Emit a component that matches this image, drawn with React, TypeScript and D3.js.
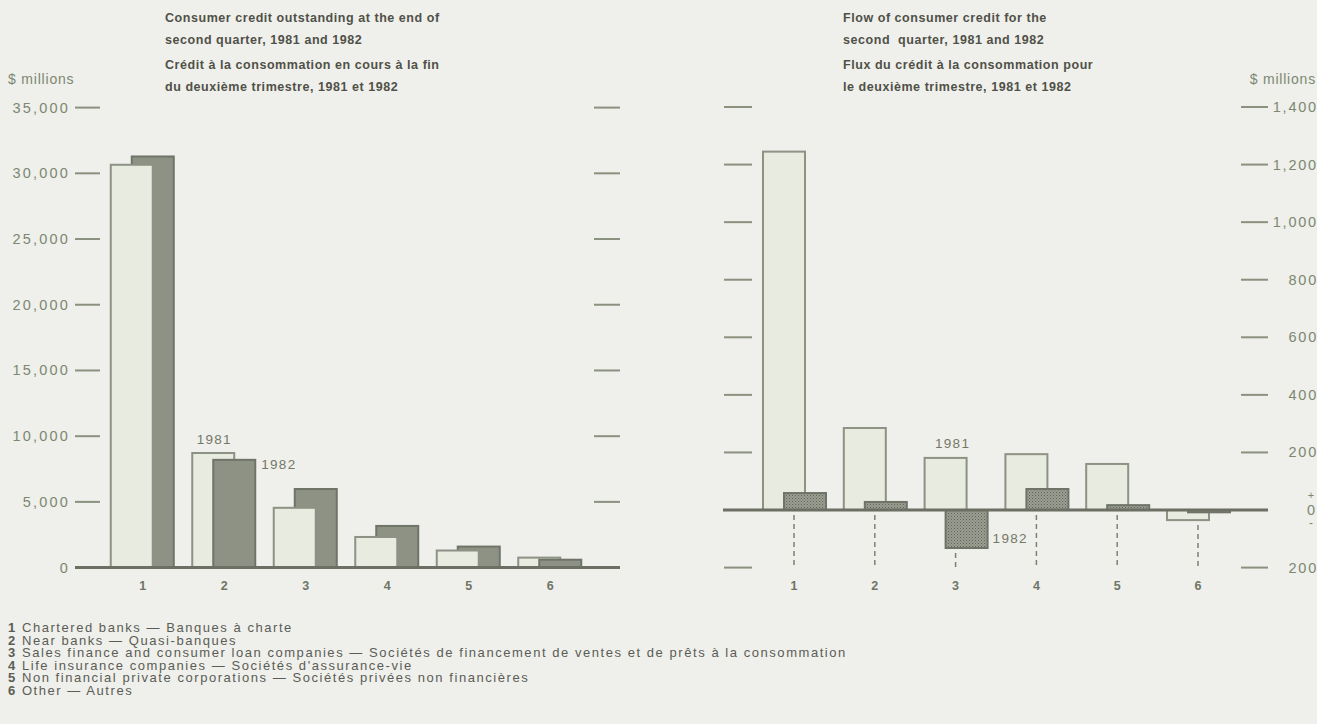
import React from "react";
import * as d3 from "d3";

const categories = ["1", "2", "3", "4", "5", "6"];
const stockTicks = [0, 5000, 10000, 15000, 20000, 25000, 30000, 35000];
const flowTicks = [-200, 0, 200, 400, 600, 800, 1000, 1200, 1400];
const stock1981 = [30650, 8720, 4550, 2330, 1300, 760];
const stock1982 = [31280, 8200, 5980, 3170, 1600, 600];
const flow1981 = [1245, 285, 181, 194, 160, -35];
const flow1982 = [59, 28, -132, 73, 17, -8];
const legendItems = [
  ["1", "Chartered banks — Banques à charte"],
  ["2", "Near banks — Quasi-banques"],
  ["3", "Sales finance and consumer loan companies — Sociétés de financement de ventes et de prêts à la consommation"],
  ["4", "Life insurance companies — Sociétés d'assurance-vie"],
  ["5", "Non financial private corporations — Sociétés privées non financières"],
  ["6", "Other — Autres"],
];
const leftTitle = [
  "Consumer credit outstanding at the end of",
  "second quarter, 1981 and 1982",
  "Crédit à la consommation en cours à la fin",
  "du deuxième trimestre, 1981 et 1982",
];
const rightTitle = [
  "Flow of consumer credit for the",
  "second  quarter, 1981 and 1982",
  "Flux du crédit à la consommation pour",
  "le deuxième trimestre, 1981 et 1982",
];

const FONT = "'Liberation Sans', Arial, Helvetica, sans-serif";
const BG = "#efefeb";
const LIGHT = "#e8ebe0";
const LIGHT_STROKE = "#8d9284";
const DARK = "#8d9284";
const DARK_STROKE = "#6f7468";
const AXIS = "#6c7064";
const TICK = "#8b917f";
const LABEL = "#7c8870";
const TITLE = "#4f5148";

const fmt = d3.format(",");

export default function App() {
  const W = 1317;
  const H = 724;

  const xL = d3.scaleBand<string>().domain(categories).range([101, 590]);
  const yL = d3.scaleLinear().domain([0, 35000]).range([567.6, 107.6]);
  const xR = d3.scaleBand<string>().domain(categories).range([753.6, 1238.4]);
  const yR = d3.scaleLinear().domain([-200, 1400]).range([567.6, 107]);

  const bw = 42;

  const leftBars = categories.map((c, i) => {
    const cx = (xL(c) as number) + xL.bandwidth() / 2;
    const a = { key: "a" + c, x: cx - 31, v: stock1981[i], fill: LIGHT, stroke: LIGHT_STROKE };
    const b = { key: "b" + c, x: cx - 10, v: stock1982[i], fill: DARK, stroke: DARK_STROKE };
    return Math.abs(a.v) >= Math.abs(b.v) ? [a, b] : [b, a];
  });

  const rightBars = categories.map((c, i) => {
    const cx = (xR(c) as number) + xR.bandwidth() / 2;
    const a = { key: "ra" + c, x: cx - 31, v: flow1981[i], fill: LIGHT, stroke: LIGHT_STROKE };
    const b = { key: "rb" + c, x: cx - 10, v: flow1982[i], fill: "url(#stipple)", stroke: DARK_STROKE };
    return Math.abs(a.v) >= Math.abs(b.v) ? [a, b] : [b, a];
  });

  const cxL2 = (xL("2") as number) + xL.bandwidth() / 2;
  const cxR3 = (xR("3") as number) + xR.bandwidth() / 2;

  return (
    <svg
      width={W}
      height={H}
      style={{ position: "absolute", left: 0, top: 0, background: BG }}
      fontFamily={FONT}
    >
      <defs>
        <pattern id="stipple" width="3" height="3" patternUnits="userSpaceOnUse">
          <rect width="3" height="3" fill="#9a9e91" />
          <rect width="1" height="1" fill="#5f6358" />
          <rect x="1.5" y="1.5" width="1" height="1" fill="#74786c" />
        </pattern>
      </defs>
      <rect width={W} height={H} fill={BG} />

      {/* titles */}
      <g fill={TITLE} fontWeight="bold" fontSize={12.5} letterSpacing={0.55}>
        {leftTitle.map((t, i) => (
          <text key={"lt" + i} x={165} y={[22, 44, 69, 91][i]} style={{ whiteSpace: "pre" }}>{t}</text>
        ))}
        {rightTitle.map((t, i) => (
          <text key={"rt" + i} x={843} y={[22, 44, 69, 91][i]} style={{ whiteSpace: "pre" }}>{t}</text>
        ))}
      </g>
      <text x={8} y={84} fontSize={14} fill={LABEL} letterSpacing={0.8}>$ millions</text>
      <text x={1316} y={84} fontSize={14} fill={LABEL} textAnchor="end" letterSpacing={0.8}>$ millions</text>

      {/* left axis */}
      {stockTicks.map((t) => (
        <g key={"ls" + t}>
          <text x={70} y={yL(t) + 5} fontSize={14.5} fill={LABEL} textAnchor="end" letterSpacing={2.2}>
            {fmt(t)}
          </text>
          {t > 0 && (
            <>
              <line x1={75} x2={100} y1={yL(t)} y2={yL(t)} stroke={TICK} strokeWidth={2} />
              <line x1={594} x2={620} y1={yL(t)} y2={yL(t)} stroke={TICK} strokeWidth={2} />
            </>
          )}
        </g>
      ))}

      {/* left bars */}
      {leftBars.flat().map((b) => (
        <rect
          key={b.key}
          x={b.x}
          y={yL(Math.max(0, b.v))}
          width={bw}
          height={Math.abs(yL(b.v) - yL(0))}
          fill={b.fill}
          stroke={b.stroke}
          strokeWidth={2}
        />
      ))}
      <line x1={75} x2={620} y1={yL(0)} y2={yL(0)} stroke={AXIS} strokeWidth={3} />
      {categories.map((c) => (
        <text
          key={"lc" + c}
          x={(xL(c) as number) + xL.bandwidth() / 2 + 1}
          y={590}
          fontSize={12.5}
          fontWeight="bold"
          fill="#6e7566"
          textAnchor="middle"
        >
          {c}
        </text>
      ))}
      <text x={cxL2 - 9} y={yL(stock1981[1]) - 9} fontSize={13.5} fill="#737868" textAnchor="middle" letterSpacing={1.3}>1981</text>
      <text x={cxL2 + 38} y={yL(stock1982[1]) + 9} fontSize={13.5} fill="#737868" letterSpacing={1.3}>1982</text>

      {/* right axis */}
      {flowTicks.map((t) => (
        <g key={"rf" + t}>
          {t !== 0 && (
            <>
              <line x1={724} x2={752} y1={yR(t)} y2={yR(t)} stroke={TICK} strokeWidth={2} />
              <line x1={1241} x2={1268} y1={yR(t)} y2={yR(t)} stroke={TICK} strokeWidth={2} />
              <text x={1318} y={yR(t) + 5} fontSize={14.5} fill={LABEL} textAnchor="end" letterSpacing={1.8}>
                {fmt(Math.abs(t))}
              </text>
            </>
          )}
          {t === 0 && (
            <g fill={LABEL} textAnchor="middle">
              <text x={1311} y={yR(0) - 11} fontSize={11}>+</text>
              <text x={1311} y={yR(0) + 5} fontSize={14.5}>0</text>
              <text x={1311} y={yR(0) + 17} fontSize={12}>-</text>
            </g>
          )}
        </g>
      ))}

      {/* right dashed lines */}
      {categories.map((c, i) => {
        const cx = (xR(c) as number) + xR.bandwidth() / 2;
        const minV = Math.min(0, flow1981[i], flow1982[i]);
        return (
          <line
            key={"rd" + c}
            x1={cx}
            x2={cx}
            y1={yR(minV) + 5}
            y2={yR(-200)}
            stroke="#7d8274"
            strokeWidth={1.5}
            strokeDasharray="5,4"
          />
        );
      })}

      {/* right bars */}
      {rightBars.flat().map((b) => (
        <rect
          key={b.key}
          x={b.x}
          y={yR(Math.max(0, b.v))}
          width={bw}
          height={Math.abs(yR(b.v) - yR(0))}
          fill={b.fill}
          stroke={b.stroke}
          strokeWidth={2}
        />
      ))}
      <line x1={723} x2={1268} y1={yR(0)} y2={yR(0)} stroke={AXIS} strokeWidth={3} />
      {categories.map((c) => (
        <text
          key={"rc" + c}
          x={(xR(c) as number) + xR.bandwidth() / 2}
          y={590}
          fontSize={12.5}
          fontWeight="bold"
          fill="#6e7566"
          textAnchor="middle"
        >
          {c}
        </text>
      ))}
      <text x={cxR3 - 3} y={yR(flow1981[2]) - 10} fontSize={13.5} fill="#737868" textAnchor="middle" letterSpacing={1.3}>1981</text>
      <text x={cxR3 + 37} y={yR(flow1982[2]) - 5} fontSize={13.5} fill="#737868" letterSpacing={1.3}>1982</text>

      {/* legend */}
      <g fontSize={13} fill="#5a5d55" letterSpacing={1.55}>
        {legendItems.map(([n, t], i) => (
          <text key={"lg" + n} x={8} y={632 + i * 12.6}>
            <tspan fontWeight="bold">{n}</tspan>
            <tspan>{" " + t}</tspan>
          </text>
        ))}
      </g>
    </svg>
  );
}
